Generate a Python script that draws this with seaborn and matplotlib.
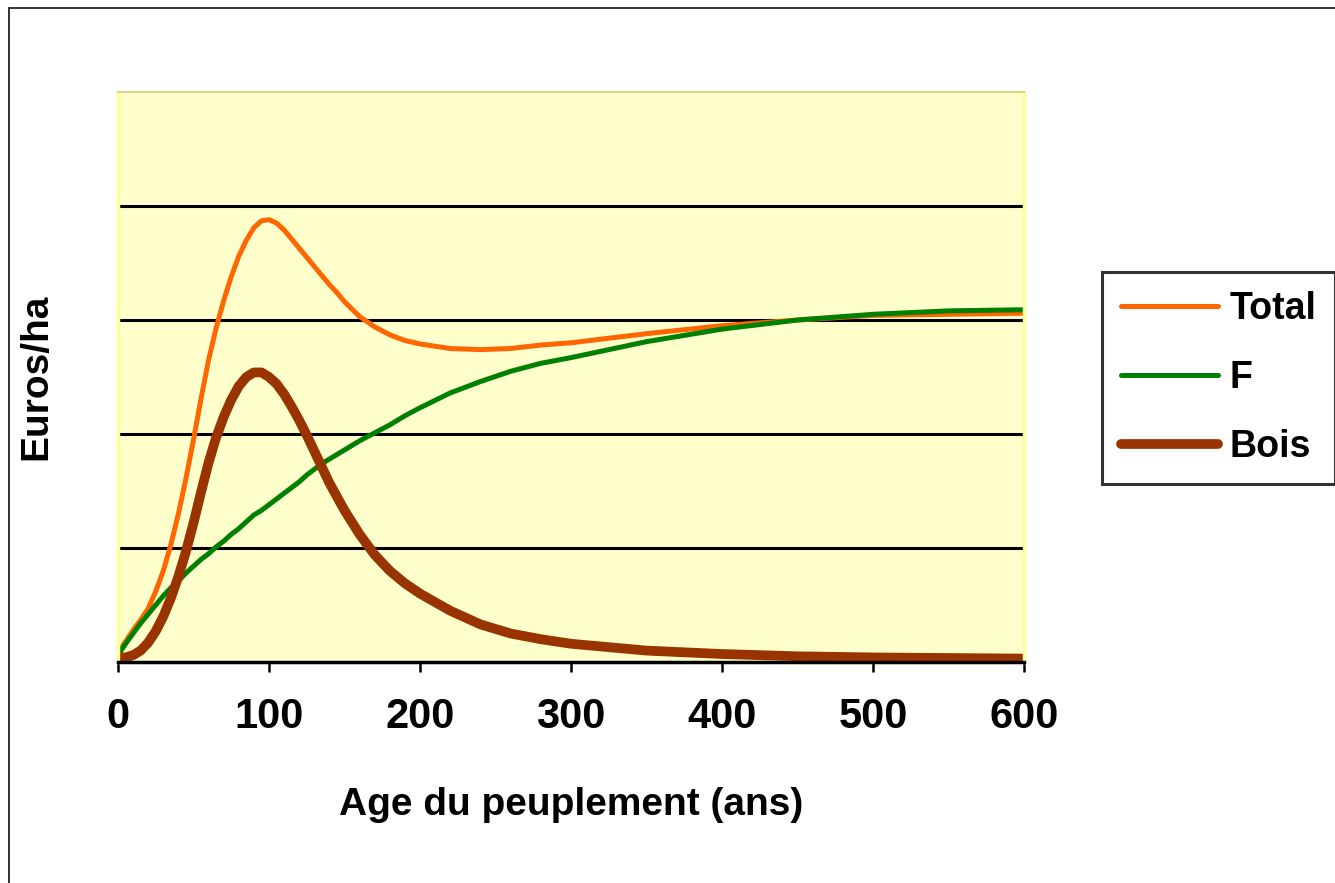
import numpy as np
import pandas as pd
import seaborn as sns
import matplotlib.pyplot as plt
from matplotlib.patches import Rectangle

# values (age in years, value in grid units)
age = [0, 5, 10, 15, 20, 25, 30, 35, 40, 45, 50, 55, 60, 65, 70, 75, 80, 85, 90,
       95, 100, 105, 110, 115, 120, 125, 130, 135, 140, 145, 150, 160, 170, 180,
       190, 200, 220, 240, 260, 280, 300, 350, 400, 450, 500, 550, 600]
total = [0.08, 0.18, 0.28, 0.37, 0.47, 0.62, 0.80, 1.03, 1.30, 1.61, 1.95, 2.31,
         2.65, 2.93, 3.17, 3.38, 3.56, 3.70, 3.81, 3.87, 3.88, 3.85, 3.79, 3.71,
         3.63, 3.55, 3.47, 3.39, 3.31, 3.24, 3.16, 3.03, 2.94, 2.87, 2.82, 2.79,
         2.75, 2.74, 2.75, 2.78, 2.80, 2.88, 2.95, 3.00, 3.04, 3.05, 3.06]
f_val = [0.06, 0.16, 0.25, 0.34, 0.42, 0.50, 0.58, 0.65, 0.71, 0.78, 0.84, 0.90,
         0.95, 1.01, 1.06, 1.12, 1.17, 1.23, 1.29, 1.33, 1.38, 1.43, 1.48, 1.53,
         1.58, 1.64, 1.69, 1.74, 1.78, 1.82, 1.86, 1.94, 2.01, 2.08, 2.16, 2.23,
         2.36, 2.46, 2.55, 2.62, 2.67, 2.81, 2.92, 3.00, 3.05, 3.08, 3.09]
bois = [0.04, 0.04, 0.06, 0.10, 0.17, 0.27, 0.40, 0.56, 0.75, 0.97, 1.22, 1.49,
        1.75, 1.97, 2.15, 2.30, 2.42, 2.50, 2.54, 2.54, 2.50, 2.44, 2.35, 2.24,
        2.12, 1.99, 1.85, 1.71, 1.57, 1.45, 1.33, 1.12, 0.94, 0.80, 0.69, 0.60,
        0.45, 0.33, 0.25, 0.20, 0.16, 0.10, 0.07, 0.05, 0.04, 0.035, 0.03]
xticks = [0, 100, 200, 300, 400, 500, 600]

df = pd.DataFrame({'age': age, 'Total': total, 'F': f_val, 'Bois': bois})

sns.set_style('white')
plt.rcParams['font.family'] = ['Liberation Sans', 'DejaVu Sans']
plt.rcParams['font.weight'] = 'bold'
plt.rcParams['text.color'] = 'black'
plt.rcParams['axes.labelcolor'] = 'black'
plt.rcParams['xtick.color'] = 'black'
plt.rcParams['xtick.labelcolor'] = 'black'

fig = plt.figure(figsize=(13.35, 8.83), dpi=100)
ax = fig.add_axes([118 / 1335, 1 - 662 / 883, (1024 - 118) / 1335, (662 - 92) / 883])
ax.set_facecolor('#FFFFCC')

# outer chart frame (only left and top edges visible)
fig.patches.append(Rectangle((9 / 1335, -0.1), 1.2, 1 - 8 / 883 + 0.1,
                             transform=fig.transFigure, fill=False,
                             edgecolor='#222222', linewidth=1.3))

sns.lineplot(data=df, x='age', y='Total', ax=ax, color='#FF6600', linewidth=3.6,
             label='Total', solid_joinstyle='round')
sns.lineplot(data=df, x='age', y='F', ax=ax, color='#008000', linewidth=3.6,
             label='F', solid_joinstyle='round')
sns.lineplot(data=df, x='age', y='Bois', ax=ax, color='#993300', linewidth=7,
             label='Bois', solid_capstyle='butt', solid_joinstyle='round')

ax.set_xlim(0, 600)
ax.set_ylim(0, 5)
ax.set_xticks(xticks)
ax.set_yticks([1, 2, 3, 4])
ax.set_yticklabels([])
ax.tick_params(axis='y', length=0)
ax.tick_params(axis='x', direction='out', length=7, width=1.8, color='black',
               labelsize=30, pad=18, bottom=True)
for lab in ax.get_xticklabels():
    lab.set_fontweight('bold')
ax.yaxis.grid(True, color='black', linewidth=2.2)
ax.set_axisbelow(True)

ax.spines['bottom'].set_color('black')
ax.spines['bottom'].set_linewidth(2.5)
ax.spines['left'].set_color('#FFFF99')
ax.spines['left'].set_linewidth(2.5)
ax.spines['right'].set_visible(True)
ax.spines['right'].set_color('#FFFF99')
ax.spines['right'].set_linewidth(2.5)
ax.spines['top'].set_visible(True)
ax.spines['top'].set_color('#D6D680')
ax.spines['top'].set_linewidth(1.5)

ax.set_xlabel('Age du peuplement (ans)', fontsize=28, fontweight='bold', labelpad=36)
ax.set_ylabel('Euros/ha', fontsize=28, fontweight='bold', labelpad=42)

leg = ax.legend(loc='upper left', bbox_to_anchor=(1102 / 1335, 1 - 272 / 883),
                bbox_transform=fig.transFigure, frameon=True, fancybox=False,
                edgecolor='black', fontsize=27, handlelength=2.6, handletextpad=0.3,
                labelspacing=0.88, borderpad=0.5, borderaxespad=0)
leg.get_frame().set_linewidth(2.2)
for t in leg.get_texts():
    t.set_fontweight('bold')
    t.set_color('black')
for h in leg.get_lines():
    h.set_solid_capstyle('round')

fig.savefig('out.png', dpi=100)
